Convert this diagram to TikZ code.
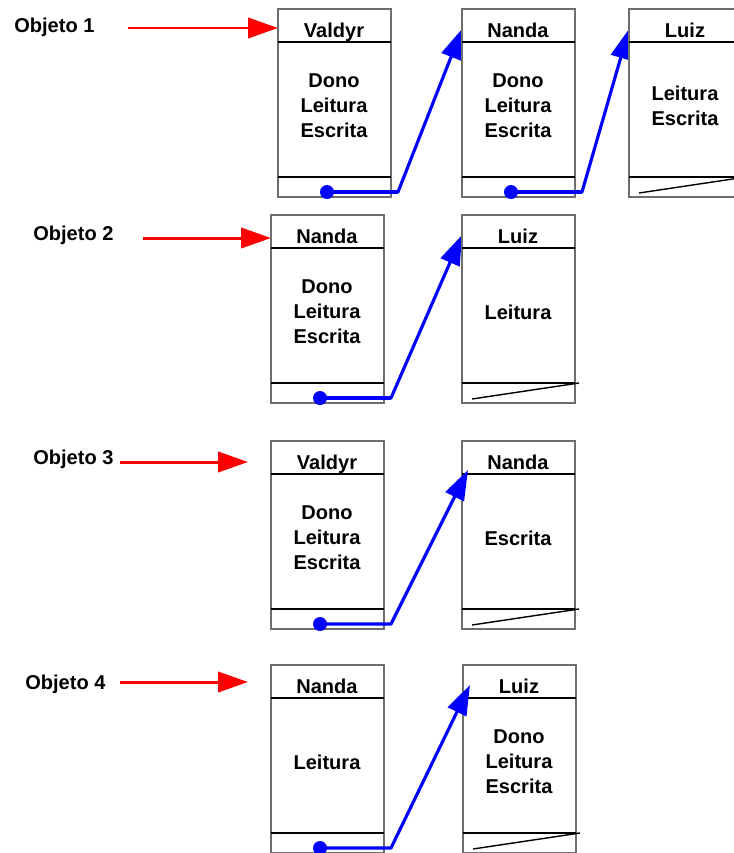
\documentclass[tikz,border=0pt]{standalone}
\usepackage{fontspec}
\setmainfont{Liberation Sans}
\usetikzlibrary{arrows.meta, backgrounds}
\tikzstyle{pixelGrid} = [x = 0.02cm, y = -0.02cm]
\definecolor{frameColor}{RGB}{110,110,110}
\tikzstyle{entryFrame} = [draw=frameColor, fill=white, line width=0.7pt]
\tikzstyle{entryLine} = [color=black, line width=0.8pt]
\tikzstyle{userText} = [font=\fontsize{11.4}{14}\selectfont\bfseries, anchor=base, inner sep=0pt]
\tikzstyle{rightsText} = [font=\fontsize{11.4}{14.2}\selectfont\bfseries, align=center, inner sep=0pt]
\tikzstyle{objectText} = [font=\fontsize{11.4}{14}\selectfont\bfseries, anchor=base west, inner sep=0pt]
\tikzstyle{objectArrow} = [color=red, line width=1.7pt, -{Triangle[length=17pt, width=11.5pt]}]
\tikzstyle{linkLine} = [color=blue, line width=1.8pt, line join=bevel]
\tikzstyle{nextArrow} = [linkLine, -{Triangle[length=17pt, width=11.5pt]}]
\tikzstyle{pointerDot} = [circle, fill=blue, inner sep=0pt, minimum size=2.8mm]
\tikzstyle{nullLine} = [color=black, line width=0.8pt]
% one access list entry: name, x, y, user, rights
\newcommand{\aclEntry}[5]{
  \filldraw [entryFrame] (#2, #3) rectangle + (113, 188);
  \draw [entryLine] (#2, #3 + 33) -- + (113, 0);
  \draw [entryLine] (#2, #3 + 168) -- + (113, 0);
  \node [userText] (#1User) at (#2 + 56, #3 + 28) {#4};
  \node [rightsText] (#1Rights) at (#2 + 56, #3 + 97) {#5};
  \coordinate (#1Entry) at (#2, #3 + 20);
  \coordinate (#1Bend) at (#2 + 120, #3 + 183);
  \coordinate (#1NullA) at (#2 + 10, #3 + 184);
  \coordinate (#1NullB) at (#2 + 117, #3 + 168);
}
% pointer to the next entry, its head goes under the next box
\newcommand{\nextLink}[2]{
  \node [pointerDot] (#1Dot) at ([shift={(-71,0)}]#1Bend) {};
  \begin{scope}[on background layer]
    \draw [nextArrow] (#1Dot.center) -- (#1Bend) -- (#2);
  \end{scope}
  \draw [linkLine] (#1Dot.center) -- (#1Bend);
}
% same pointer, head drawn over the next box
\newcommand{\nextLinkOver}[2]{
  \node [pointerDot] (#1Dot) at ([shift={(-71,0)}]#1Bend) {};
  \draw [nextArrow] (#1Dot.center) -- (#1Bend) -- (#2);
}
\newcommand{\nullLink}[1]{\draw [nullLine] (#1NullA) -- (#1NullB);}

\begin{document}
\begin{tikzpicture}[pixelGrid]
  \useasboundingbox (0, 0) rectangle (734, 853);
  \clip (0, 0) rectangle (734, 853);

  % objeto 1
  \node [objectText] (obj1) at (14, 32) {Objeto 1};
  \aclEntry{va}{278}{9}{Valdyr}{Dono\\Leitura\\Escrita}
  \aclEntry{nb}{462}{9}{Nanda}{Dono\\Leitura\\Escrita}
  \aclEntry{lc}{629}{9}{Luiz}{Leitura\\Escrita}
  \coordinate (obj1Tail) at (128, 28);
  \draw [objectArrow] (obj1Tail) -- (obj1Tail -| vaEntry);
  \nextLink{va}{nbEntry}
  \nextLink{nb}{lcEntry}
  \nullLink{lc}

  % objeto 2
  \node [objectText] (obj2) at (33, 240) {Objeto 2};
  \aclEntry{na}{271}{215}{Nanda}{Dono\\Leitura\\Escrita}
  \aclEntry{lb}{462}{215}{Luiz}{Leitura}
  \coordinate (obj2Tail) at (143, 238);
  \draw [objectArrow] (obj2Tail) -- (obj2Tail -| naEntry);
  \nextLink{na}{lbEntry}
  \nullLink{lb}

  % objeto 3
  \node [objectText] (obj3) at (33, 464) {Objeto 3};
  \aclEntry{vc}{271}{441}{Valdyr}{Dono\\Leitura\\Escrita}
  \aclEntry{nd}{462}{441}{Nanda}{Escrita}
  \coordinate (obj3Tail) at (120, 462);
  \coordinate (obj3Tip) at (248, 462);
  \draw [objectArrow] (obj3Tail) -- (obj3Tip);
  \nextLinkOver{vc}{[shift={(6,9)}]ndEntry}
  \nullLink{nd}

  % objeto 4
  \node [objectText] (obj4) at (25, 689) {Objeto 4};
  \aclEntry{ne}{271}{665}{Nanda}{Leitura}
  \aclEntry{ld}{463}{665}{Luiz}{Dono\\Leitura\\Escrita}
  \coordinate (obj4Tail) at (120, 682);
  \coordinate (obj4Tip) at (248, 682);
  \draw [objectArrow] (obj4Tail) -- (obj4Tip);
  \nextLinkOver{ne}{[shift={(7,0)}]ldEntry}
  \nullLink{ld}
\end{tikzpicture}
\end{document}
